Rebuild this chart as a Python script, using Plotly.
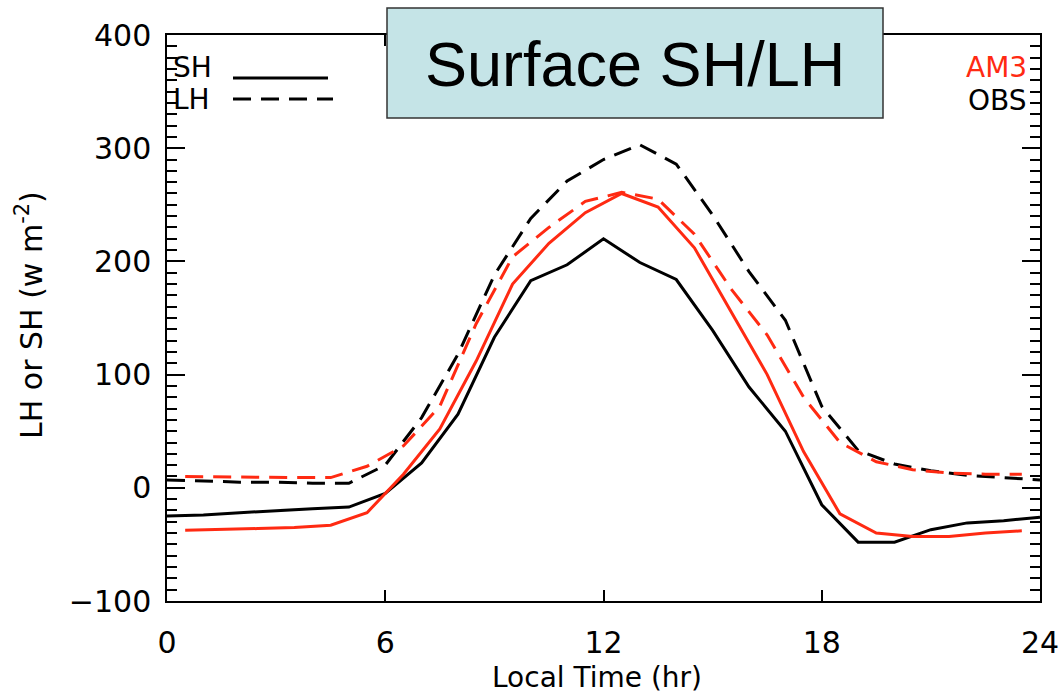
import plotly.graph_objects as go

# ---- data ----
obs_hours = list(range(0, 25))
obs_sh = [-25, -24, -22, -20, -18.5, -17, -5, 22, 65, 133, 183, 197, 220, 199, 184, 139, 89, 50, -15, -48, -48, -37, -31, -29, -26]
obs_lh = [7, 6, 5, 5, 4, 4, 20, 62, 118, 188, 238, 271, 290, 303, 286, 241, 191, 148, 72, 33, 21, 15, 11, 9, 7]

am3_hours = [h + 0.5 for h in range(0, 24)]
am3_sh = [-37.5, -37, -36, -35, -33, -22, 12, 52, 112, 180, 216, 243, 260, 248, 212, 156, 100, 32, -23, -40, -43, -43, -40, -38]
am3_lh = [10, 9.5, 9, 9, 9, 19, 37, 72, 145, 204, 230, 253, 261, 255, 224, 176, 135, 80, 40, 23, 16, 13, 12, 12]

x_ticks = [0, 6, 12, 18, 24]
y_ticks = [-100, 0, 100, 200, 300, 400]

RED = "#ff2a12"
FONT = "DejaVu Sans"

fig = go.Figure()
fig.add_trace(go.Scatter(x=obs_hours, y=obs_lh, mode="lines",
                         line=dict(color="black", width=3, dash="18px,10px"), showlegend=False))
fig.add_trace(go.Scatter(x=am3_hours, y=am3_lh, mode="lines",
                         line=dict(color=RED, width=3, dash="18px,10px"), showlegend=False))
fig.add_trace(go.Scatter(x=obs_hours, y=obs_sh, mode="lines",
                         line=dict(color="black", width=3), showlegend=False))
fig.add_trace(go.Scatter(x=am3_hours, y=am3_sh, mode="lines",
                         line=dict(color=RED, width=3), showlegend=False))

L, R, T, B = 167, 23, 35, 99
W, H = 1063, 700
PW, PH = W - L - R, H - T - B

def px(x):
    return (x - L) / PW

def py(y):
    return (H - B - y) / PH

fig.update_layout(
    width=W, height=H,
    margin=dict(l=L, r=R, t=T, b=B, autoexpand=False),
    plot_bgcolor="white", paper_bgcolor="white",
    font=dict(family=FONT, size=28, color="black"),
    xaxis=dict(range=[0, 24], tickvals=x_ticks, ticks="inside", ticklen=11, tickwidth=1.5,
               tickcolor="black", showline=True, linecolor="black", linewidth=1.5,
               mirror="ticks", showgrid=False, zeroline=False, automargin=False,
               tickfont=dict(family=FONT, size=30), ticklabelstandoff=14),
    yaxis=dict(range=[-100, 400], tickvals=y_ticks, ticks="inside", ticklen=18, tickwidth=1.5,
               tickcolor="black", showline=True, linecolor="black", linewidth=1.5,
               mirror="ticks", showgrid=False, zeroline=False, automargin=False,
               tickfont=dict(family=FONT, size=30), ticklabelstandoff=8,
               minor=dict(dtick=10, ticks="inside", ticklen=10, tickwidth=1.5, tickcolor="black",
                          showgrid=False)),
)

# axis titles
fig.add_annotation(x=px(597), y=py(677), xref="paper", yref="paper", showarrow=False,
                   text="Local Time (hr)", font=dict(family=FONT, size=28),
                   xanchor="center", yanchor="middle")
fig.add_annotation(x=px(29), y=py(315), xref="paper", yref="paper", showarrow=False,
                   text="LH or SH (w m<sup>-2</sup>)", textangle=-90,
                   font=dict(family=FONT, size=30), xanchor="center", yanchor="middle")

# title box
fig.add_shape(type="rect", xref="paper", yref="paper",
              x0=px(387), x1=px(883), y0=py(118), y1=py(8),
              fillcolor="#c5e4e7", line=dict(color="#333333", width=1.5), layer="above")
fig.add_annotation(x=px(635), y=py(64), xref="paper", yref="paper", showarrow=False,
                   text="Surface SH/LH", font=dict(family="Liberation Sans", size=63),
                   xanchor="center", yanchor="middle")

# legend (line styles)
fig.add_annotation(x=px(171), y=py(68), xref="paper", yref="paper", showarrow=False,
                   text="SH", font=dict(family=FONT, size=28), xanchor="left", yanchor="middle")
fig.add_annotation(x=px(171), y=py(99), xref="paper", yref="paper", showarrow=False,
                   text="LH", font=dict(family=FONT, size=28), xanchor="left", yanchor="middle")
fig.add_shape(type="line", xref="paper", yref="paper", x0=px(233), x1=px(328), y0=py(78), y1=py(78),
              line=dict(color="black", width=3))
fig.add_shape(type="line", xref="paper", yref="paper", x0=px(233), x1=px(333), y0=py(99), y1=py(99),
              line=dict(color="black", width=3, dash="18px,10px"))

# legend (sources)
fig.add_annotation(x=px(1029), y=py(68), xref="paper", yref="paper", showarrow=False,
                   text="AM3", font=dict(family=FONT, size=28, color=RED), xanchor="right", yanchor="middle")
fig.add_annotation(x=px(1029), y=py(100), xref="paper", yref="paper", showarrow=False,
                   text="OBS", font=dict(family=FONT, size=28, color="black"), xanchor="right", yanchor="middle")

fig.write_html("out.html")
